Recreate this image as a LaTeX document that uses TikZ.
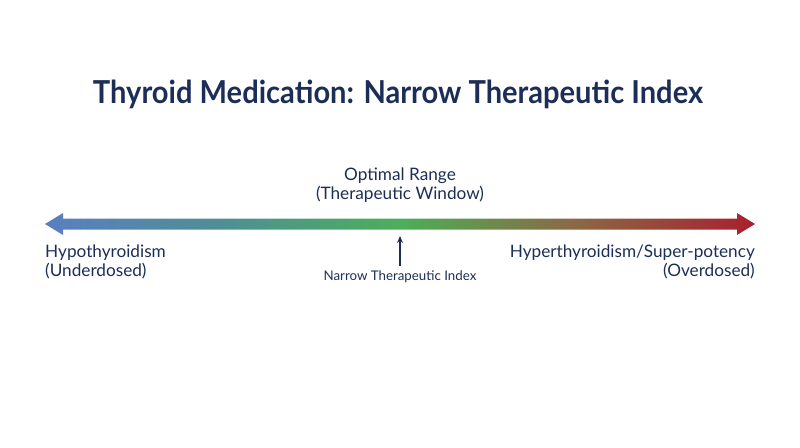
\documentclass[tikz,border=0pt]{standalone}
\usepackage{fontspec}
\setmainfont{Lato}
\usepackage{graphicx}
\usetikzlibrary{arrows.meta}
\definecolor{navy}{HTML}{1C2E57}
\definecolor{cblue}{HTML}{5B7EC2}
\definecolor{cteal}{HTML}{4F8E96}
\definecolor{cgreen}{HTML}{4CAF5A}
\definecolor{cbrown}{HTML}{8A6A45}
\definecolor{cred}{HTML}{A8202F}
\pgfdeclarehorizontalshading{spectrum}{100bp}{
  color(0bp)=(cblue); color(25bp)=(cblue); color(37bp)=(cteal);
  color(50bp)=(cgreen); color(62bp)=(cbrown); color(75bp)=(cred); color(100bp)=(cred)}
\tikzset{
  lbl/.style={text=navy, font=\fontsize{17.2}{20}\selectfont, inner sep=0pt},
  small/.style={text=navy, font=\fontsize{13.3}{15}\selectfont, inner sep=0pt},
}
\begin{document}
\begin{tikzpicture}[x=1pt,y=-1pt]
\useasboundingbox (0,0) rectangle (800,447);
\node[text=navy, inner sep=0pt, anchor=base] (title) at (398,103) {\resizebox{610pt}{23.5pt}{\fontsize{30}{34}\selectfont\bfseries Thyroid Medication: Narrow Therapeutic Index}};
% gradient arrow
\path[shading=spectrum, shading angle=0]
  (45,224) -- (63,213) -- (63,218.5) -- (737,218.5) -- (737,213) -- (755,224)
  -- (737,235) -- (737,229.5) -- (63,229.5) -- (63,235) -- cycle;
\coordinate (left) at (45,224);
\coordinate (right) at (755,224);
\node[lbl, anchor=base] (opt) at (400,180) {Optimal Range};
\node[lbl, anchor=base] (win) at (400,199) {(Therapeutic Window)};
\node[lbl, anchor=base west] (hypo) at (45,257) {Hypothyroidism};
\node[lbl, anchor=base west] (under) at (45,276) {(Underdosed)};
\node[lbl, anchor=base east] (hyper) at (755,257) {Hyperthyroidism/Super-potency};
\node[lbl, anchor=base east] (over) at (755,276) {(Overdosed)};
\node[small, anchor=base] (nti) at (400,280) {Narrow Therapeutic Index};
\coordinate (tip) at (400,236);
\draw[navy, line width=1.2pt, -{Stealth[length=7pt,width=6pt]}] (400,266) -- (tip);
\end{tikzpicture}
\end{document}
